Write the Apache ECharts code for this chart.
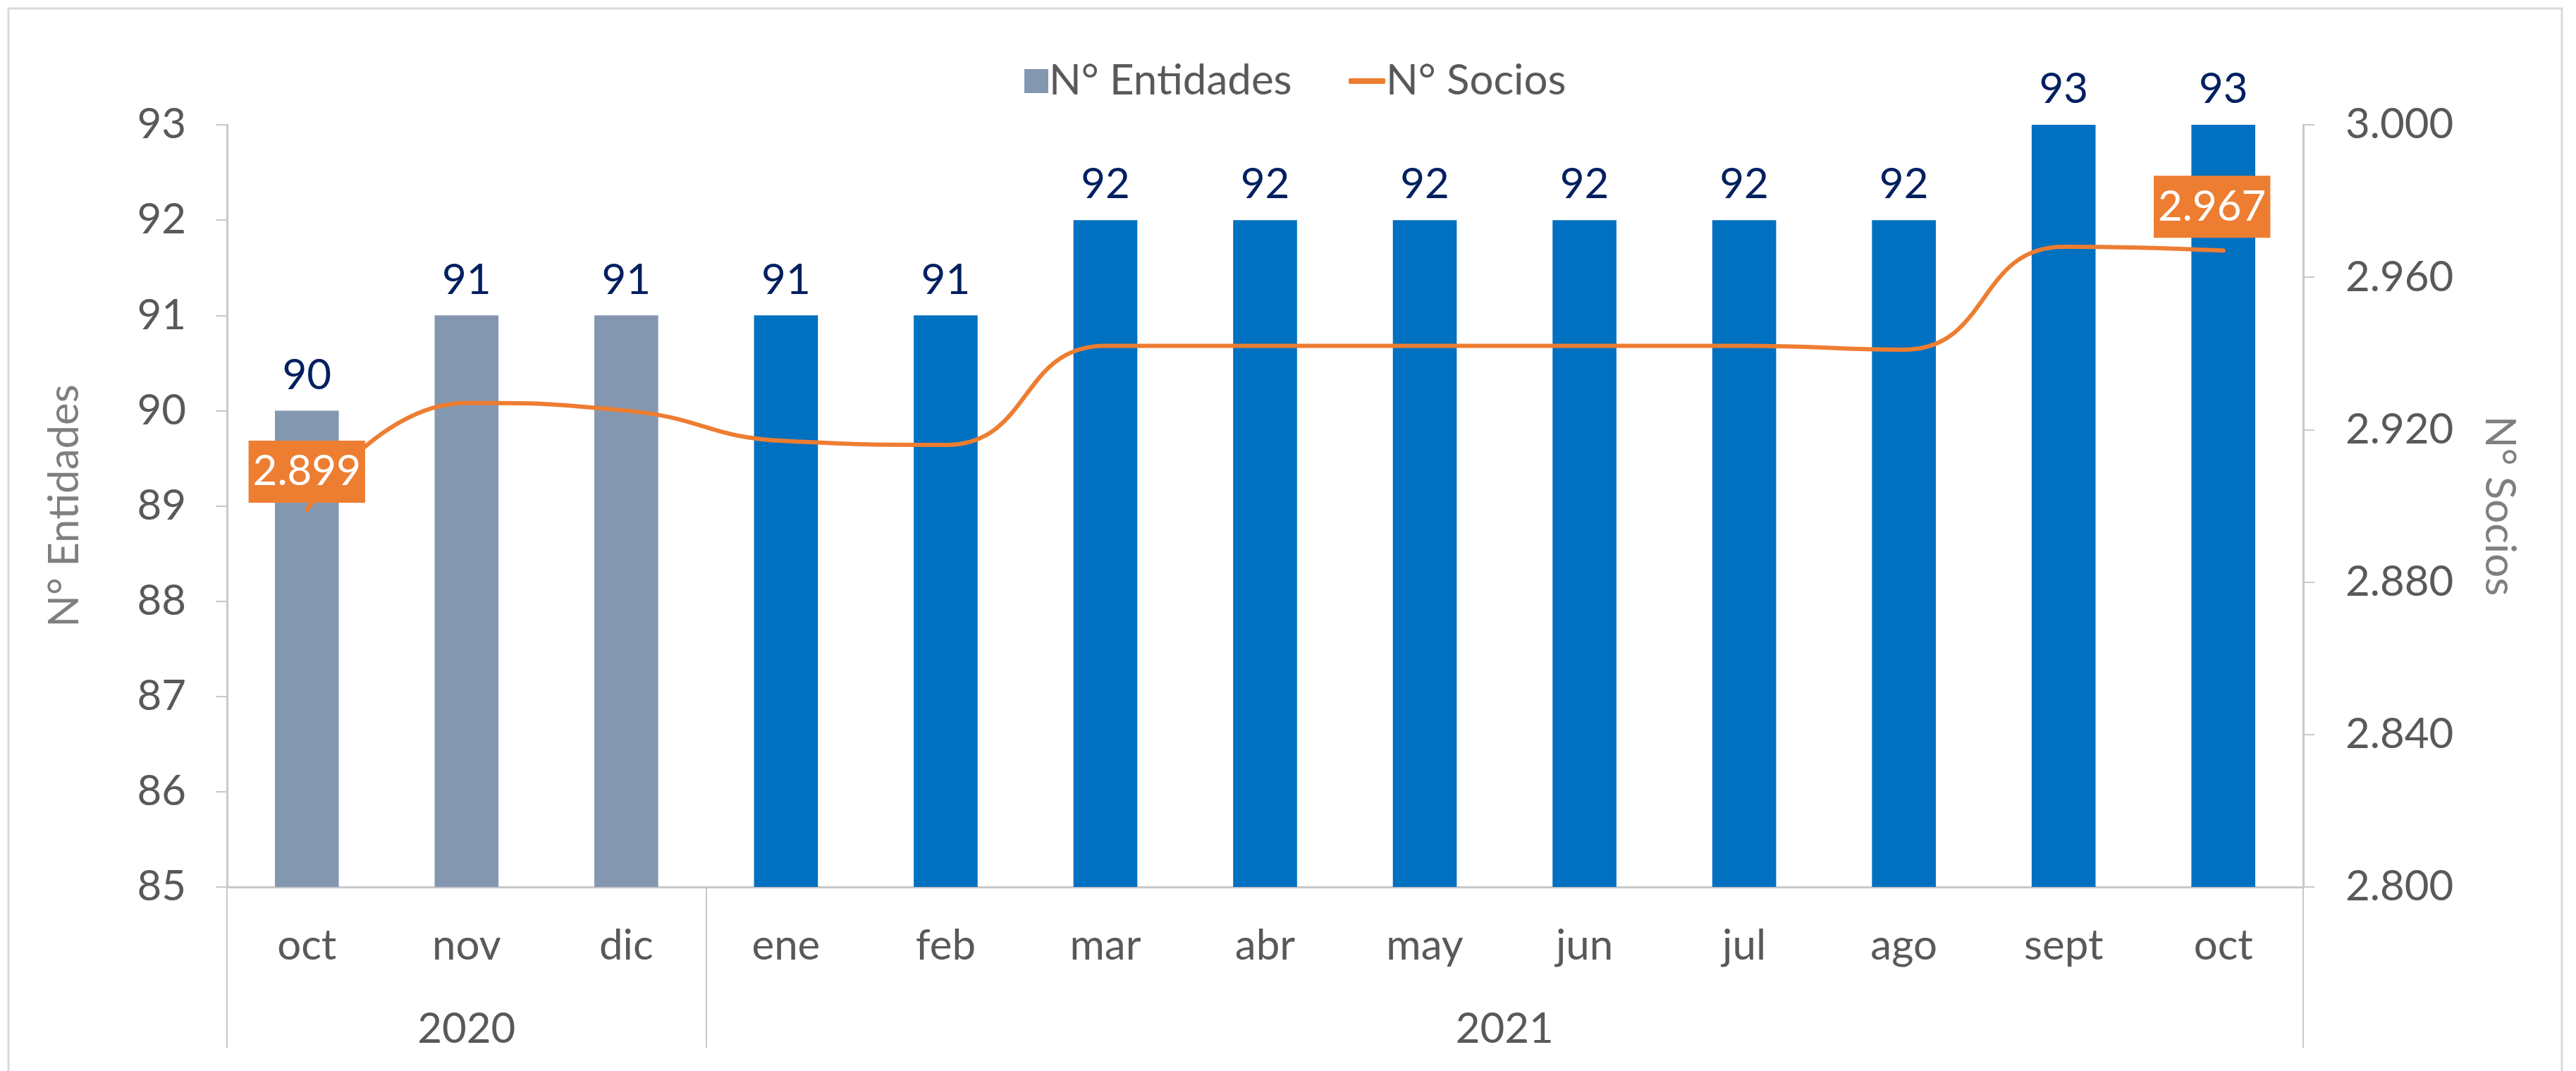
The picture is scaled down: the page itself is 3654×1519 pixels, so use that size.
<!DOCTYPE html>
<html>
<head>
<meta charset="utf-8">
<script src="https://cdn.jsdelivr.net/npm/echarts@6/dist/echarts.min.js"></script>
<style>
  html, body { margin: 0; padding: 0; background: #fff; }
  #chart { width: 3654px; height: 1519px; }
</style>
</head>
<body>
<div id="chart"></div>
<script>
// months shown under the bars, grouped by year
const months = ['oct', 'nov', 'dic', 'ene', 'feb', 'mar', 'abr', 'may', 'jun', 'jul', 'ago', 'sept', 'oct'];
const years = ['2020', '2021'];
const monthsPerYear = [3, 10];

// N° Entidades (bars) and N° Socios (line)
const entidades = [90, 91, 91, 91, 91, 92, 92, 92, 92, 92, 92, 93, 93];
const socios = [2899, 2927, 2925, 2917, 2916, 2942, 2942, 2942, 2942, 2942, 2941, 2968, 2967];

const FONT = 'Lato';
const GREY_TXT = '#595959';
const AXIS_CLR = '#C9C9C9';

// year group boundaries and centres on a 0..13 scale
const bounds = [0];
monthsPerYear.forEach(n => bounds.push(bounds[bounds.length - 1] + n));
const centres = years.map((y, i) => (bounds[i] + bounds[i + 1]) / 2);

const fmtThousands = v => String(Math.round(v)).replace(/\B(?=(\d{3})+(?!\d))/g, '.');

const chart = echarts.init(document.getElementById('chart'));

const barData = entidades.map((v, i) => ({
  value: v,
  itemStyle: { color: i < monthsPerYear[0] ? '#8497B0' : '#0070C0' }
}));

// only the first and last points of the line carry a label
const lineData = socios.map((v, i) => {
  if (i === 0) {
    return { value: v, label: { show: true, distance: 10 } };
  }
  if (i === socios.length - 1) {
    return { value: v, label: { show: true, distance: 18, offset: [-16, 0] } };
  }
  return { value: v };
});

const option = {
  backgroundColor: '#fff',
  animation: false,
  textStyle: { fontFamily: FONT },
  graphic: [{
    type: 'rect',
    shape: { x: 12, y: 12, width: 3622, height: 1540 },
    style: { fill: 'none', stroke: '#D9D9D9', lineWidth: 3 },
    silent: true
  }],
  legend: [{
    data: ['N° Entidades'],
    left: 1448,
    top: 80,
    icon: 'rect',
    itemWidth: 34,
    itemHeight: 34,
    itemGap: 8,
    textStyle: { fontFamily: FONT, fontSize: 60, color: GREY_TXT, padding: [0, 0, 0, -4] }
  }, {
    data: [{ name: 'N° Socios', icon: 'roundRect' }],
    left: 1908,
    top: 80,
    itemWidth: 52,
    itemHeight: 8,
    textStyle: { fontFamily: FONT, fontSize: 60, color: GREY_TXT, padding: [0, 0, 0, -4] }
  }],
  grid: { left: 322, right: 387, top: 177, bottom: 261 },
  xAxis: [{
    type: 'category',
    data: months,
    axisLine: { show: true, lineStyle: { color: AXIS_CLR, width: 3 } },
    axisTick: { show: false },
    axisLabel: { fontFamily: FONT, fontSize: 60, color: GREY_TXT, margin: 54 }
  }, {
    type: 'value',
    min: 0,
    max: bounds[bounds.length - 1],
    position: 'bottom',
    axisLine: { show: false },
    splitLine: { show: false },
    axisTick: {
      show: true,
      customValues: bounds,
      length: 228,
      lineStyle: { color: AXIS_CLR, width: 2 }
    },
    axisLabel: {
      customValues: centres,
      formatter: v => years[centres.indexOf(v)],
      fontFamily: FONT, fontSize: 60, color: GREY_TXT, margin: 172
    }
  }],
  yAxis: [{
    type: 'value',
    min: 85,
    max: 93,
    interval: 1,
    name: 'N° Entidades',
    nameLocation: 'middle',
    nameRotate: 90,
    nameGap: 200,
    nameTextStyle: { fontFamily: FONT, fontSize: 60, color: '#7F7F7F' },
    axisLine: { show: true, lineStyle: { color: AXIS_CLR, width: 3 } },
    axisTick: { show: true, length: 16, lineStyle: { color: AXIS_CLR, width: 2 } },
    splitLine: { show: false },
    axisLabel: { fontFamily: FONT, fontSize: 60, color: GREY_TXT, margin: 58 }
  }, {
    type: 'value',
    min: 2800,
    max: 3000,
    interval: 40,
    name: 'N° Socios',
    nameLocation: 'middle',
    nameRotate: -90,
    nameGap: 248,
    nameTextStyle: { fontFamily: FONT, fontSize: 60, color: '#7F7F7F' },
    axisLine: { show: true, lineStyle: { color: AXIS_CLR, width: 3 } },
    axisTick: { show: true, length: 16, lineStyle: { color: AXIS_CLR, width: 2 } },
    splitLine: { show: false },
    axisLabel: { fontFamily: FONT, fontSize: 60, color: GREY_TXT, margin: 60, formatter: fmtThousands }
  }],
  series: [{
    name: 'N° Entidades',
    type: 'bar',
    xAxisIndex: 0,
    yAxisIndex: 0,
    barWidth: '40%',
    color: '#8497B0',
    data: barData,
    label: {
      show: true,
      position: 'top',
      distance: 20,
      fontFamily: FONT,
      fontSize: 60,
      color: '#002060'
    }
  }, {
    name: 'N° Socios',
    type: 'line',
    xAxisIndex: 0,
    yAxisIndex: 1,
    smooth: 0.5,
    smoothConstraint: false,
    symbol: 'circle',
    symbolSize: 0,
    showSymbol: true,
    color: '#ED7D31',
    lineStyle: { color: '#ED7D31', width: 6, cap: 'round' },
    data: lineData,
    label: {
      show: false,
      position: 'top',
      formatter: p => fmtThousands(p.value),
      backgroundColor: '#ED7D31',
      color: '#fff',
      fontFamily: FONT,
      fontSize: 60,
      lineHeight: 64,
      padding: [12, 6]
    },
    z: 3
  }]
};

chart.setOption(option);
</script>
</body>
</html>
